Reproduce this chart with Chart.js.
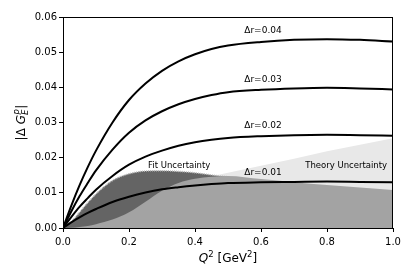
<!DOCTYPE html>
<html>
<head>
<meta charset="utf-8">
<script src="https://cdn.jsdelivr.net/npm/chart.js@4/dist/chart.umd.min.js"></script>
<style>
  html, body { margin: 0; padding: 0; background: #fff; }
  #wrap { width: 415px; height: 277px; }
</style>
</head>
<body>
<div id="wrap"><canvas id="chart" width="415" height="277"></canvas></div>
<script>
// Data
const q2 = [0, 0.025, 0.05, 0.075, 0.1, 0.15, 0.2, 0.25, 0.3, 0.35, 0.4, 0.45, 0.5, 0.6, 0.7, 0.8, 0.9, 1.0];

const dr04 = [0, 0.0063, 0.0121, 0.0173, 0.0220, 0.0300, 0.0364, 0.0411, 0.0447, 0.0474, 0.0494, 0.0509, 0.0519, 0.0529, 0.0535, 0.0537, 0.0535, 0.0530];
const dr03 = [0, 0.0047, 0.0090, 0.0128, 0.0164, 0.0223, 0.0271, 0.0306, 0.0332, 0.0352, 0.0367, 0.0378, 0.0386, 0.0393, 0.0397, 0.0399, 0.0397, 0.0394];
const dr02 = [0, 0.0031, 0.0060, 0.0085, 0.0109, 0.0148, 0.0180, 0.0203, 0.0220, 0.0234, 0.0244, 0.0251, 0.0256, 0.0261, 0.0264, 0.0265, 0.0264, 0.0262];
const dr01 = [0, 0.0016, 0.0030, 0.0043, 0.0054, 0.0074, 0.0089, 0.0101, 0.0110, 0.0116, 0.0121, 0.0125, 0.0128, 0.0130, 0.0131, 0.0132, 0.0131, 0.0130];

// uncertainty bands (upper edges)
const theoryBand  = [0, 0.0008, 0.0015, 0.0022, 0.0030, 0.0045, 0.0060, 0.0078, 0.0095, 0.0112, 0.0130, 0.0146, 0.0157, 0.0177, 0.0197, 0.0218, 0.0237, 0.0255];
const fitBand     = [0, 0.0018, 0.0045, 0.0072, 0.0097, 0.0135, 0.0154, 0.0162, 0.0163, 0.0161, 0.0157, 0.0151, 0.0146, null, null, null, null, null];
const overlapBand = [0, 0.0001, 0.0003, 0.0006, 0.0011, 0.0024, 0.0045, 0.0075, 0.0106, 0.0128, 0.0140, 0.0146, 0.0148, 0.0139, 0.0130, 0.0122, 0.0115, 0.0108];

const xTicks = [0, 0.2, 0.4, 0.6, 0.8, 1.0];

// label positions in data coords
const notes = [
  { text: 'Δr=0.04', x: 0.606, y: 0.0560 },
  { text: 'Δr=0.03', x: 0.606, y: 0.0421 },
  { text: 'Δr=0.02', x: 0.606, y: 0.0290 },
  { text: 'Δr=0.01', x: 0.606, y: 0.0158 },
  { text: 'Fit Uncertainty', x: 0.352, y: 0.0178 },
  { text: 'Theory Uncertainty', x: 0.858, y: 0.0178 }
];

const pts = (arr) => q2.map((x, i) => ({ x: x, y: arr[i] }));

function lineSet(arr) {
  return {
    data: pts(arr),
    borderColor: '#000',
    borderWidth: 2,
    pointRadius: 0,
    fill: false,
    cubicInterpolationMode: 'monotone',
    order: 1
  };
}

const FONT = 'DejaVu Sans';

const extras = {
  id: 'extras',
  afterDraw(chart) {
    const ctx = chart.ctx;
    const a = chart.chartArea;
    const xs = chart.scales.x, ys = chart.scales.y;
    ctx.save();
    // frame
    ctx.strokeStyle = '#000';
    ctx.lineWidth = 1;
    ctx.strokeRect(a.left + 0.5, a.top + 0.5, a.right - a.left - 1, a.bottom - a.top);

    // annotations
    ctx.fillStyle = '#000';
    ctx.textAlign = 'center';
    ctx.textBaseline = 'middle';
    notes.forEach(n => {
      ctx.font = (n.text.length > 8 ? '8.5px ' : '9px ') + FONT;
      ctx.fillText(n.text, xs.getPixelForValue(n.x), ys.getPixelForValue(n.y));
    });

    // x title: Q^2 [GeV^2]
    ctx.textAlign = 'left';
    ctx.textBaseline = 'alphabetic';
    const parts = [
      { t: 'Q', f: 'italic 12px ' + FONT, dy: 0 },
      { t: '2', f: '8.5px ' + FONT, dy: -5 },
      { t: ' [GeV', f: '12px ' + FONT, dy: 0 },
      { t: '2', f: '8.5px ' + FONT, dy: -5 },
      { t: ']', f: '12px ' + FONT, dy: 0 }
    ];
    let w = 0;
    parts.forEach(p => { ctx.font = p.f; w += ctx.measureText(p.t).width; });
    let x = (a.left + a.right) / 2 - w / 2;
    const base = 262;
    parts.forEach(p => {
      ctx.font = p.f;
      ctx.fillText(p.t, x, base + p.dy);
      x += ctx.measureText(p.t).width;
    });

    // y title: |Δ G_E^p|
    ctx.translate(25, (a.top + a.bottom) / 2);
    ctx.rotate(-Math.PI / 2);
    const yp = [
      { t: '|Δ ', f: '12px ' + FONT },
      { t: 'G', f: 'italic 12px ' + FONT }
    ];
    let yw = 0;
    yp.forEach(p => { ctx.font = p.f; yw += ctx.measureText(p.t).width; });
    ctx.font = 'italic 8.5px ' + FONT;
    const subW = Math.max(ctx.measureText('E').width, ctx.measureText('p').width) + 1;
    ctx.font = '12px ' + FONT;
    const barW = ctx.measureText('|').width;
    let yx = -(yw + subW + barW) / 2;
    yp.forEach(p => {
      ctx.font = p.f;
      ctx.fillText(p.t, yx, 0);
      yx += ctx.measureText(p.t).width;
    });
    ctx.font = 'italic 8.5px ' + FONT;
    ctx.fillText('p', yx + 0.5, -6);
    ctx.fillText('E', yx, 3);
    yx += subW;
    ctx.font = '12px ' + FONT;
    ctx.fillText('|', yx, 0);
    ctx.restore();
  }
};

new Chart(document.getElementById('chart'), {
  type: 'line',
  data: {
    datasets: [
      {
        data: pts(theoryBand),
        borderWidth: 0,
        pointRadius: 0,
        fill: 'origin',
        backgroundColor: '#e8e8e8',
        cubicInterpolationMode: 'monotone',
        order: 6
      },
      {
        data: pts(fitBand),
        borderColor: '#bdbdbd',
        borderWidth: 1.5,
        borderDash: [1, 1],
        pointRadius: 0,
        fill: 'origin',
        backgroundColor: '#646464',
        cubicInterpolationMode: 'monotone',
        spanGaps: false,
        order: 5
      },
      {
        data: pts(overlapBand),
        borderWidth: 0,
        pointRadius: 0,
        fill: 'origin',
        backgroundColor: '#a3a3a3',
        cubicInterpolationMode: 'monotone',
        order: 4
      },
      lineSet(dr04),
      lineSet(dr03),
      lineSet(dr02),
      lineSet(dr01)
    ]
  },
  options: {
    responsive: false,
    animation: false,
    events: [],
    layout: { padding: { left: 0, top: 17, right: 22, bottom: 0 } },
    plugins: {
      legend: { display: false },
      tooltip: { enabled: false },
      filler: { drawTime: 'beforeDatasetDraw' }
    },
    scales: {
      x: {
        type: 'linear',
        min: 0,
        max: 1,
        afterFit: (s) => { s.height = 49; },
        afterBuildTicks: (s) => { s.ticks = xTicks.map(v => ({ value: v })); },
        ticks: {
          color: '#000',
          font: { family: FONT, size: 10 },
          padding: 4,
          maxRotation: 0,
          callback: (v) => v.toFixed(1)
        },
        grid: { drawOnChartArea: false, color: '#000', tickLength: 4 },
        border: { color: '#000' }
      },
      y: {
        min: 0,
        max: 0.06,
        afterFit: (s) => { s.width = 63; },
        ticks: {
          stepSize: 0.01,
          color: '#000',
          font: { family: FONT, size: 10 },
          padding: 2,
          callback: (v) => v.toFixed(2)
        },
        grid: { drawOnChartArea: false, color: '#000', tickLength: 4 },
        border: { color: '#000' }
      }
    }
  },
  plugins: [extras]
});
</script>
</body>
</html>
